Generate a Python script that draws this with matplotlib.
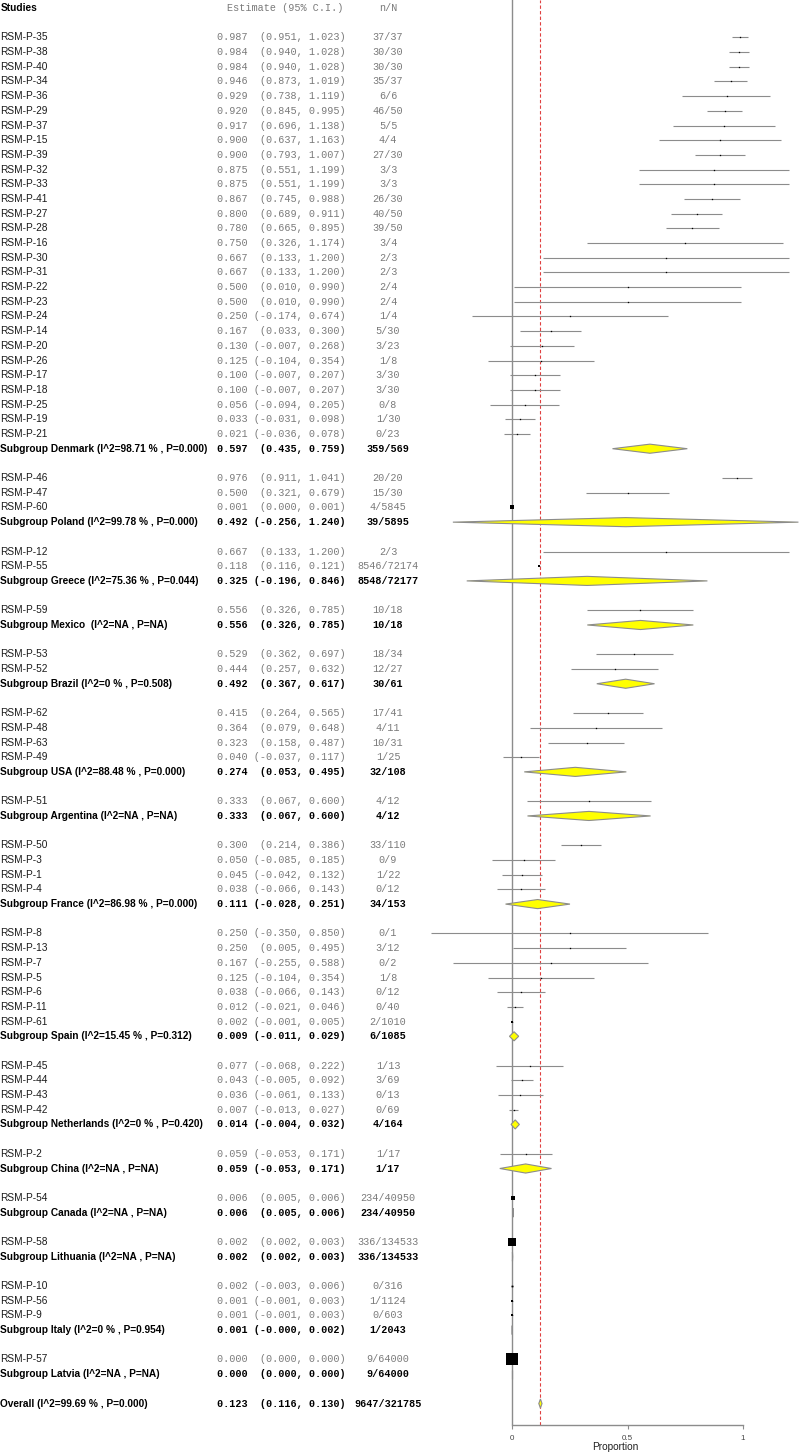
import numpy as np
import matplotlib
matplotlib.use("Agg")
import matplotlib.pyplot as plt
from matplotlib.transforms import blended_transform_factory
from matplotlib.patches import Polygon

# ---------------- data ----------------
study_names = [
    "RSM-P-35", "RSM-P-38", "RSM-P-40", "RSM-P-34", "RSM-P-36", "RSM-P-29", "RSM-P-37",
    "RSM-P-15", "RSM-P-39", "RSM-P-32", "RSM-P-33", "RSM-P-41", "RSM-P-27", "RSM-P-28",
    "RSM-P-16", "RSM-P-30", "RSM-P-31", "RSM-P-22", "RSM-P-23", "RSM-P-24", "RSM-P-14",
    "RSM-P-20", "RSM-P-26", "RSM-P-17", "RSM-P-18", "RSM-P-25", "RSM-P-19", "RSM-P-21",
    "RSM-P-46", "RSM-P-47", "RSM-P-60",
    "RSM-P-12", "RSM-P-55",
    "RSM-P-59",
    "RSM-P-53", "RSM-P-52",
    "RSM-P-62", "RSM-P-48", "RSM-P-63", "RSM-P-49",
    "RSM-P-51",
    "RSM-P-50", "RSM-P-3", "RSM-P-1", "RSM-P-4",
    "RSM-P-8", "RSM-P-13", "RSM-P-7", "RSM-P-5", "RSM-P-6", "RSM-P-11", "RSM-P-61",
    "RSM-P-45", "RSM-P-44", "RSM-P-43", "RSM-P-42",
    "RSM-P-2",
    "RSM-P-54",
    "RSM-P-58",
    "RSM-P-10", "RSM-P-56", "RSM-P-9",
    "RSM-P-57",
]
study_est = [
    0.987, 0.984, 0.984, 0.946, 0.929, 0.920, 0.917, 0.900, 0.900, 0.875, 0.875, 0.867,
    0.800, 0.780, 0.750, 0.667, 0.667, 0.500, 0.500, 0.250, 0.167, 0.130, 0.125, 0.100,
    0.100, 0.056, 0.033, 0.021,
    0.976, 0.500, 0.001,
    0.667, 0.118,
    0.556,
    0.529, 0.444,
    0.415, 0.364, 0.323, 0.040,
    0.333,
    0.300, 0.050, 0.045, 0.038,
    0.250, 0.250, 0.167, 0.125, 0.038, 0.012, 0.002,
    0.077, 0.043, 0.036, 0.007,
    0.059,
    0.006,
    0.002,
    0.002, 0.001, 0.001,
    0.000,
]
study_lo = [
    0.951, 0.940, 0.940, 0.873, 0.738, 0.845, 0.696, 0.637, 0.793, 0.551, 0.551, 0.745,
    0.689, 0.665, 0.326, 0.133, 0.133, 0.010, 0.010, -0.174, 0.033, -0.007, -0.104, -0.007,
    -0.007, -0.094, -0.031, -0.036,
    0.911, 0.321, 0.000,
    0.133, 0.116,
    0.326,
    0.362, 0.257,
    0.264, 0.079, 0.158, -0.037,
    0.067,
    0.214, -0.085, -0.042, -0.066,
    -0.350, 0.005, -0.255, -0.104, -0.066, -0.021, -0.001,
    -0.068, -0.005, -0.061, -0.013,
    -0.053,
    0.005,
    0.002,
    -0.003, -0.001, -0.001,
    0.000,
]
study_hi = [
    1.023, 1.028, 1.028, 1.019, 1.119, 0.995, 1.138, 1.163, 1.007, 1.199, 1.199, 0.988,
    0.911, 0.895, 1.174, 1.200, 1.200, 0.990, 0.990, 0.674, 0.300, 0.268, 0.354, 0.207,
    0.207, 0.205, 0.098, 0.078,
    1.041, 0.679, 0.001,
    1.200, 0.121,
    0.785,
    0.697, 0.632,
    0.565, 0.648, 0.487, 0.117,
    0.600,
    0.386, 0.185, 0.132, 0.143,
    0.850, 0.495, 0.588, 0.354, 0.143, 0.046, 0.005,
    0.222, 0.092, 0.133, 0.027,
    0.171,
    0.006,
    0.003,
    0.006, 0.003, 0.003,
    0.000,
]
study_n = [
    37, 30, 30, 35, 6, 46, 5, 4, 27, 3, 3, 26, 40, 39, 3, 2, 2, 2, 2, 1, 5, 3, 1, 3, 3, 0, 1, 0,
    20, 15, 4,
    2, 8546,
    10,
    18, 12,
    17, 4, 10, 1,
    4,
    33, 0, 1, 0,
    0, 3, 0, 1, 0, 0, 2,
    1, 3, 0, 0,
    1,
    234,
    336,
    0, 1, 0,
    9,
]
study_N = [
    37, 30, 30, 37, 6, 50, 5, 4, 30, 3, 3, 30, 50, 50, 4, 3, 3, 4, 4, 4, 30, 23, 8, 30, 30, 8, 30, 23,
    20, 30, 5845,
    3, 72174,
    18,
    34, 27,
    41, 11, 31, 25,
    12,
    110, 9, 22, 12,
    1, 12, 2, 8, 12, 40, 1010,
    13, 69, 13, 69,
    17,
    40950,
    134533,
    316, 1124, 603,
    64000,
]
group_counts = [28, 3, 2, 1, 2, 4, 1, 4, 7, 4, 1, 1, 1, 3, 1]
group_labels = [
    "Subgroup Denmark (I^2=98.71 % , P=0.000)",
    "Subgroup Poland (I^2=99.78 % , P=0.000)",
    "Subgroup Greece (I^2=75.36 % , P=0.044)",
    "Subgroup Mexico  (I^2=NA , P=NA)",
    "Subgroup Brazil (I^2=0 % , P=0.508)",
    "Subgroup USA (I^2=88.48 % , P=0.000)",
    "Subgroup Argentina (I^2=NA , P=NA)",
    "Subgroup France (I^2=86.98 % , P=0.000)",
    "Subgroup Spain (I^2=15.45 % , P=0.312)",
    "Subgroup Netherlands (I^2=0 % , P=0.420)",
    "Subgroup China (I^2=NA , P=NA)",
    "Subgroup Canada (I^2=NA , P=NA)",
    "Subgroup Lithuania (I^2=NA , P=NA)",
    "Subgroup Italy (I^2=0 % , P=0.954)",
    "Subgroup Latvia (I^2=NA , P=NA)",
]
group_est = [0.597, 0.492, 0.325, 0.556, 0.492, 0.274, 0.333, 0.111, 0.009, 0.014, 0.059, 0.006, 0.002, 0.001, 0.000]
group_lo = [0.435, -0.256, -0.196, 0.326, 0.367, 0.053, 0.067, -0.028, -0.011, -0.004, -0.053, 0.005, 0.002, -0.0, 0.000]
group_hi = [0.759, 1.240, 0.846, 0.785, 0.617, 0.495, 0.600, 0.251, 0.029, 0.032, 0.171, 0.006, 0.003, 0.002, 0.000]
group_n = [359, 39, 8548, 10, 30, 32, 4, 34, 6, 4, 1, 234, 336, 1, 9]
group_N = [569, 5895, 72177, 18, 61, 108, 12, 153, 1085, 164, 17, 40950, 134533, 2043, 64000]

overall_label = "Overall (I^2=99.69 % , P=0.000)"
overall_est, overall_lo, overall_hi = 0.123, 0.116, 0.130
overall_n, overall_N = 9647, 321785

header_cols = ["Studies", "Estimate (95% C.I.)", "n/N"]
x_ticks = [0, 0.5, 1]
x_label = "Proportion"

# ---------------- layout ----------------
W, H, DPI = 800, 1455, 100
X0, XSCALE = 512.0, 231.0          # pixel of x=0 and pixels per unit
ROW0, ROWH = 8.0, 14.69            # pixel of row 0 and row pitch
AXIS_Y = 1425.0

SANS = ["Liberation Sans", "DejaVu Sans"]
MONO = ["Liberation Mono", "DejaVu Sans Mono"]
FS = 7.3
GREY_TXT = "#7a7a7a"
LINE_GREY = "#8c8c8c"

fig = plt.figure(figsize=(W / DPI, H / DPI), dpi=DPI)
ax = fig.add_axes([0, (H - AXIS_Y) / H, 1, AXIS_Y / H])
ax.set_xlim(-X0 / XSCALE, (W - X0) / XSCALE)
ax.set_ylim((AXIS_Y - ROW0) / ROWH, -ROW0 / ROWH)
ax.patch.set_alpha(0)
for s in ["left", "right", "top"]:
    ax.spines[s].set_visible(False)
ax.spines["bottom"].set_bounds(0, 1)
ax.spines["bottom"].set_color(LINE_GREY)
ax.spines["bottom"].set_linewidth(1.0)
ax.set_yticks([])
ax.set_xticks(x_ticks)
ax.set_xticklabels([f"{t:g}" for t in x_ticks], fontsize=5.8, family=SANS, color="#444444")
ax.tick_params(axis="x", length=3, width=0.8, color=LINE_GREY, pad=4)
ax.set_xlabel(x_label, fontsize=7.3, family=SANS, color="#222222")
ax.xaxis.set_label_coords(615.0 / W, -17.0 / AXIS_Y)

tr = blended_transform_factory(fig.transFigure, ax.transData)
X_LABEL = 0.5 / W
X_EST = 217.0 / W
X_EST_R = 343.0 / W
X_NN = 388.0 / W


def ci_text(e, lo, hi):
    ci = f"({lo:.3f}, {hi:.3f})"
    return f"{e:.3f} {ci:>15s}"


def marker_side_px(n, N):
    if n == 0 or n == N:
        p = (n + 0.5) / (N + 1)
        se = np.sqrt(p * (1 - p) / (N + 1))
    else:
        p = n / N
        se = np.sqrt(p * (1 - p) / N)
    return max(1.3, 0.085 / np.sqrt(se))


def row_text(r, label, e, lo, hi, n, N, bold):
    if bold:
        ax.text(X_LABEL, r, label, transform=tr, ha="left", va="center",
                fontsize=FS, family=SANS, weight="bold", color="black")
        ax.text(X_EST, r, ci_text(e, lo, hi), transform=tr, ha="left", va="center",
                fontsize=FS, family=MONO, weight="bold", color="black")
        ax.text(X_NN, r, f"{n}/{N}", transform=tr, ha="center", va="center",
                fontsize=FS, family=MONO, weight="bold", color="black")
    else:
        ax.text(X_LABEL, r, label, transform=tr, ha="left", va="center",
                fontsize=FS, family=SANS, color="#1a1a1a")
        ax.text(X_EST, r, ci_text(e, lo, hi), transform=tr, ha="left", va="center",
                fontsize=FS, family=MONO, color=GREY_TXT)
        ax.text(X_NN, r, f"{n}/{N}", transform=tr, ha="center", va="center",
                fontsize=FS, family=MONO, color=GREY_TXT)


def diamond(r, e, lo, hi):
    h = 0.31
    poly = Polygon([(lo, r), (e, r - h), (hi, r), (e, r + h)], closed=True,
                   facecolor="#ffff00", edgecolor=LINE_GREY, linewidth=0.8, zorder=3)
    ax.add_patch(poly)


# header
ax.text(X_LABEL, 0, header_cols[0], transform=tr, ha="left", va="center",
        fontsize=FS, family=SANS, weight="bold", color="black")
ax.text(X_EST_R, 0, header_cols[1], transform=tr, ha="right", va="center",
        fontsize=FS, family=MONO, color=GREY_TXT)
ax.text(X_NN, 0, header_cols[2], transform=tr, ha="center", va="center",
        fontsize=FS, family=MONO, color=GREY_TXT)

# reference lines
ax.axvline(0, color=LINE_GREY, lw=1.0, zorder=1)
ax.axvline(overall_est, color="#e04040", lw=0.8, ls=(0, (3, 2)), zorder=1)

row = 2
k = 0
for g, cnt in enumerate(group_counts):
    for _ in range(cnt):
        e, lo, hi = study_est[k], study_lo[k], study_hi[k]
        n, N = study_n[k], study_N[k]
        row_text(row, study_names[k], e, lo, hi, n, N, False)
        ax.plot([lo, hi], [row, row], color=LINE_GREY, lw=0.8, zorder=2, solid_capstyle="butt")
        side = marker_side_px(n, N) * 72.0 / DPI
        ax.plot([e], [row], marker="s", ms=side, mfc="black", mec="black", mew=0,
                ls="none", zorder=4)
        row += 1
        k += 1
    row_text(row, group_labels[g], group_est[g], group_lo[g], group_hi[g],
             group_n[g], group_N[g], True)
    diamond(row, group_est[g], group_lo[g], group_hi[g])
    row += 2

row_text(row, overall_label, overall_est, overall_lo, overall_hi, overall_n, overall_N, True)
diamond(row, overall_est, overall_lo, overall_hi)

fig.savefig("out.png", dpi=DPI, facecolor="white")
